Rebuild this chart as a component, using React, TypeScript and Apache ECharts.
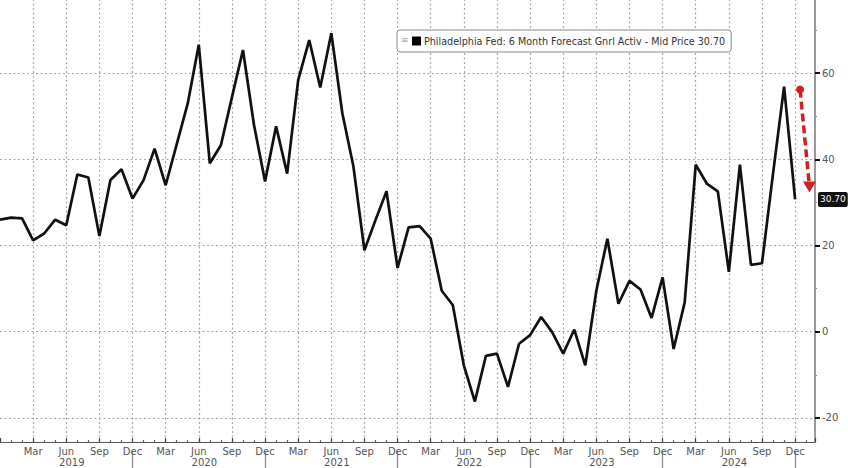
import React, { useEffect, useRef } from "react";
import * as echarts from "echarts";

// Monthly values, Dec 2018 .. Dec 2024 (index 0 = Dec 2018)
const values: number[] = [
  26.0, 26.5, 26.3, 21.2, 22.8, 26.0, 24.7, 36.5, 35.8, 22.2, 35.2, 37.7,
  30.9, 35.2, 42.5, 34.0, 43.5, 53.0, 66.6, 39.1, 43.3, 54.4, 65.4, 48.0,
  34.9, 47.7, 36.7, 58.4, 67.7, 56.7, 69.3, 50.7, 38.4, 18.9, 25.9, 32.6,
  14.8, 24.2, 24.5, 21.6, 9.5, 6.2, -7.8, -16.2, -5.6, -5.1, -12.8, -2.8,
  -0.8, 3.4, -0.1, -5.1, 0.5, -7.8, 9.5, 21.6, 6.5, 11.8, 9.8, 3.2,
  12.6, -4.0, 6.8, 38.8, 34.4, 32.6, 13.9, 38.8, 15.5, 15.9, 36.7, 56.9,
  30.7,
];
const monthNames: string[] = ["Dec", "Jan", "Feb", "Mar", "Apr", "May", "Jun", "Jul", "Aug", "Sep", "Oct", "Nov"];
const quarterTicks: number[] = [3, 6, 9, 12, 15, 18, 21, 24, 27, 30, 33, 36, 39, 42, 45, 48, 51, 54, 57, 60, 63, 66, 69, 72];
const years: string[] = ["2019", "2020", "2021", "2022", "2023", "2024"];
const yearCenters: number[] = [6.5, 18.5, 30.5, 42.5, 54.5, 66.5];
const yearSeparators: number[] = [12, 24, 36, 48, 60, 72];
const yMajorTicks: number[] = [-20, 0, 20, 40, 60];
const yMinorTicks: number[] = [-10, 10, 30, 50, 70];
const seriesName = "Philadelphia Fed: 6 Month Forecast Gnrl Activ - Mid Price 30.70";
const lastValueLabel = "30.70";
const arrowStart: [number, number] = [72.45, 56.2];
const arrowEnd: [number, number] = [73.3, 33.6];

const X_MAX = 73.8;
const Y_MIN = -25.6;
const Y_MAX = 77;
const FONT = "DejaVu Sans";

export default function App() {
  const ref = useRef<HTMLDivElement>(null);
  useEffect(() => {
    if (!ref.current) return;
    const chart = echarts.init(ref.current, undefined, { renderer: "svg" });
    const dotted = { color: "#a8a8a8", width: 1.2, type: [2, 2.5] as number[] };
    const gridMarks: any[] = [
      ...quarterTicks.map((q) => ({ xAxis: q })),
      ...yMajorTicks.map((v) => ({ yAxis: v })),
    ];
    const option: any = {
      animation: false,
      backgroundColor: "#ffffff",
      textStyle: { fontFamily: FONT },
      grid: { left: 0, right: 33, top: 0, bottom: 26, containLabel: false },
      legend: {
        show: true,
        left: 397,
        top: 30,
        z: 10,
        data: [seriesName],
        icon: "rect",
        itemWidth: 9,
        itemHeight: 9,
        itemGap: 4,
        backgroundColor: "#ffffff",
        borderColor: "#8a8a8a",
        borderWidth: 1,
        borderRadius: 3,
        padding: [6, 6, 6, 15],
        textStyle: { fontFamily: FONT, fontSize: 9.6, color: "#333333", padding: [0, 0, 0, -2] },
        selectedMode: false,
      },
      graphic: [
        {
          type: "text",
          left: 401,
          top: 35,
          z: 100,
          style: { text: "≡", fill: "#aaaaaa", fontSize: 9, fontFamily: FONT },
        },
      ],
      xAxis: [
        {
          type: "value",
          min: 0,
          max: X_MAX,
          interval: 3,
          position: "bottom",
          axisLine: { show: true, onZero: false, lineStyle: { color: "#555555", width: 1.2 } },
          axisTick: { show: true, inside: true, length: 4, lineStyle: { color: "#444444", width: 1.2 } },
          minorTick: { show: true, splitNumber: 3, length: 2, lineStyle: { color: "#666666", width: 1.2 } },
          axisLabel: {
            show: true,
            showMinLabel: false,
            showMaxLabel: false,
            margin: 4,
            fontSize: 10,
            fontFamily: FONT,
            color: "#555555",
            formatter: (v: number) => (Number.isInteger(v) ? monthNames[v % 12] : ""),
          },
          splitLine: { show: false },
        },
        {
          type: "value",
          min: 0,
          max: X_MAX,
          position: "bottom",
          offset: 12,
          axisLine: { show: false, onZero: false },
          axisTick: { show: false },
          splitLine: { show: false },
          axisLabel: {
            show: true,
            customValues: yearCenters,
            margin: 3,
            fontSize: 10,
            fontFamily: FONT,
            color: "#555555",
            formatter: (v: number) => {
              const k = yearCenters.indexOf(v);
              return k >= 0 ? years[k] : "";
            },
          },
        },
        {
          type: "value",
          min: 0,
          max: X_MAX,
          position: "bottom",
          offset: 9,
          axisLine: { show: false, onZero: false },
          axisTick: { show: true, length: 18, customValues: yearSeparators, lineStyle: { color: "#8c8c8c", width: 1.3 } },
          axisLabel: { show: false },
          splitLine: { show: false },
        },
      ],
      yAxis: [
        {
          type: "value",
          position: "right",
          min: Y_MIN,
          max: Y_MAX,
          axisLine: { show: true, onZero: false, lineStyle: { color: "#777777", width: 1.5 } },
          axisTick: { show: true, length: 5, customValues: yMajorTicks, lineStyle: { color: "#111111", width: 2 } },
          axisLabel: {
            show: true,
            customValues: yMajorTicks,
            margin: 7,
            fontSize: 10,
            fontFamily: FONT,
            color: "#555555",
          },
          splitLine: { show: false },
        },
        {
          type: "value",
          position: "right",
          min: Y_MIN,
          max: Y_MAX,
          axisLine: { show: false, onZero: false },
          axisTick: { show: true, length: 2, customValues: yMinorTicks, lineStyle: { color: "#888888", width: 1.2 } },
          axisLabel: { show: false },
          splitLine: { show: false },
        },
      ],
      series: [
        {
          name: "grid",
          type: "line",
          xAxisIndex: 0,
          yAxisIndex: 0,
          z: 0,
          data: [],
          showSymbol: false,
          markLine: {
            silent: true,
            animation: false,
            z: 0,
            symbol: "none",
            label: { show: false },
            lineStyle: dotted,
            data: gridMarks,
          },
        },
        {
          name: seriesName,
          type: "line",
          xAxisIndex: 0,
          yAxisIndex: 0,
          z: 3,
          data: values.map((v, i) => [i, v]),
          showSymbol: false,
          symbol: "none",
          itemStyle: { color: "#000000" },
          lineStyle: { color: "#111111", width: 2.7 },
          markLine: {
            silent: true,
            animation: false,
            z: 6,
            data: [
              [
                {
                  coord: arrowStart,
                  symbol: "circle",
                  symbolSize: 8,
                  lineStyle: { color: "#d0201f", width: 3.5, type: [8, 4] },
                  label: { show: false },
                },
                { coord: arrowEnd, symbol: "triangle", symbolSize: [13, 11], symbolRotate: 180 },
              ],
              {
                yAxis: values[values.length - 1],
                symbol: "none",
                lineStyle: { color: "rgba(0,0,0,0)", width: 1 },
                label: {
                  show: true,
                  position: "end",
                  distance: 3,
                  formatter: lastValueLabel,
                  backgroundColor: "#111111",
                  color: "#ffffff",
                  fontSize: 9,
                  fontFamily: FONT,
                  padding: [3, 2, 3, 2],
                  borderRadius: 2,
                },
              },
            ],
          },
        },
      ],
    };
    chart.setOption(option);
    return () => chart.dispose();
  }, []);
  return (
    <div
      ref={ref}
      style={{ position: "fixed", left: 0, top: 0, width: 848, height: 468 }}
    />
  );
}
